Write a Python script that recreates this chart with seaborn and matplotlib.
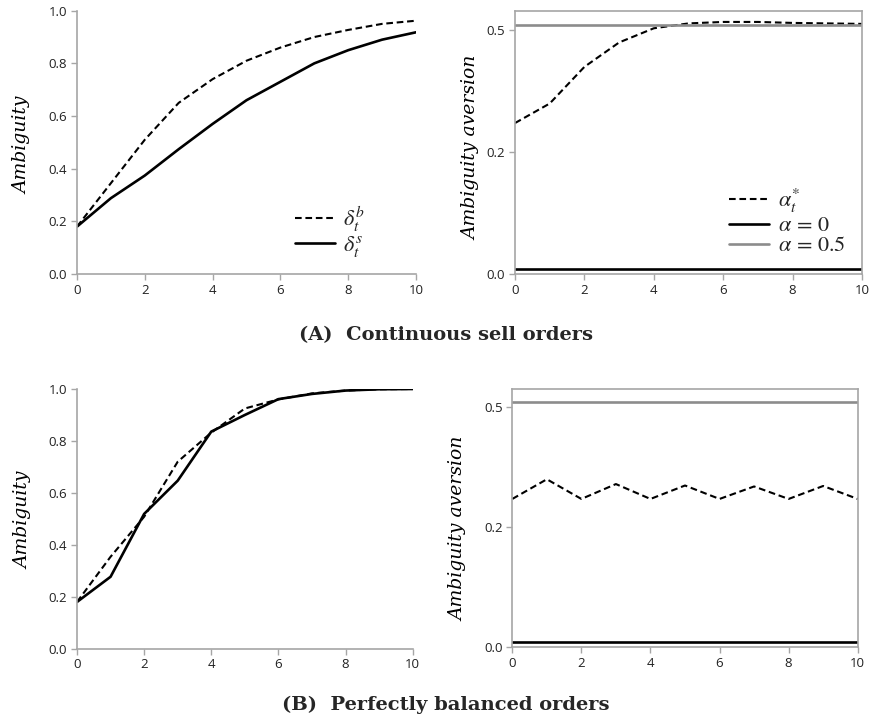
import numpy as np
import pandas as pd
import seaborn as sns
import matplotlib
matplotlib.use("Agg")
import matplotlib.pyplot as plt
from matplotlib.ticker import FormatStrFormatter

# ---- data ----
t = list(range(11))
# Panel A: continuous sell orders
a_delta_b = [0.18, 0.345, 0.51, 0.65, 0.74, 0.81, 0.86, 0.90, 0.927, 0.95, 0.962]
a_delta_s = [0.18, 0.288, 0.374, 0.474, 0.57, 0.66, 0.73, 0.80, 0.85, 0.89, 0.918]
a_alpha_star = [0.309, 0.349, 0.424, 0.474, 0.503, 0.513, 0.516, 0.516, 0.514, 0.513, 0.512]
# Panel B: perfectly balanced orders
b_delta_b = [0.18, 0.354, 0.508, 0.72, 0.832, 0.925, 0.96, 0.983, 0.994, 0.999, 1.0]
b_delta_s = [0.18, 0.277, 0.519, 0.647, 0.836, 0.90, 0.961, 0.981, 0.994, 0.999, 1.0]
b_alpha_star = [0.309, 0.35, 0.309, 0.340, 0.309, 0.337, 0.309, 0.335, 0.309, 0.336, 0.309]
alpha_zero = [0.01] * 11
alpha_half = [0.51] * 11

x_ticks = [0, 2, 4, 6, 8, 10]
amb_ticks = [0.0, 0.2, 0.4, 0.6, 0.8, 1.0]
aver_ticks = [0.0, 0.25, 0.5]

sns.set_style("white")
plt.rcParams["mathtext.fontset"] = "stix"

SPINE = "#a6a6a6"
TICKC = "#222222"
DASH = (3.2, 1.8)

fig = plt.figure(figsize=(8.73, 7.22), dpi=100)

def frac(l, r, top, bot):
    return [l / 873, (722 - bot) / 722, (r - l) / 873, (bot - top) / 722]

ax_tl = fig.add_axes(frac(77, 416, 10.7, 274))
ax_tr = fig.add_axes(frac(515, 862, 10.7, 274))
ax_bl = fig.add_axes(frac(77, 412.7, 389, 648.7))
ax_br = fig.add_axes(frac(512.3, 857.7, 389, 647.3))

def style(ax, box, yt, ylim, fmt):
    ax.set_xlim(0, 10)
    ax.set_ylim(*ylim)
    ax.set_xticks(x_ticks)
    ax.set_yticks(yt)
    ax.yaxis.set_major_formatter(FormatStrFormatter(fmt))
    for s in ["left", "bottom", "top", "right"]:
        ax.spines[s].set_color(SPINE)
        ax.spines[s].set_linewidth(1.2)
        ax.spines[s].set_visible(box or s in ("left", "bottom"))
    ax.tick_params(axis="both", which="major", direction="out", length=4,
                   width=1.0, color=SPINE, labelcolor=TICKC, labelsize=9.5,
                   pad=3, bottom=True, left=True)
    for lab in ax.get_xticklabels() + ax.get_yticklabels():
        lab.set_fontfamily("Open Sans")
    ax.set_facecolor("white")

def ylab(ax, text, x, y):
    ax.set_ylabel(text, fontsize=13.5, fontstyle="italic", family="DejaVu Serif",
                  color="black")
    ax.yaxis.set_label_coords(x, y)

# Top-left
sns.lineplot(x=t, y=a_delta_b, ax=ax_tl, color="black", linewidth=1.5,
             label=r"$\delta_t^b$").lines[-1].set_dashes(DASH)
sns.lineplot(x=t, y=a_delta_s, ax=ax_tl, color="black", linewidth=1.9,
             label=r"$\delta_t^s$")
style(ax_tl, False, amb_ticks, (0, 1.0), "%.1f")
ylab(ax_tl, "Ambiguity", -0.135, 0.49)
ax_tl.legend(loc="lower right", frameon=False, fontsize=16, handlelength=1.8,
             bbox_to_anchor=(0.91, -0.02), labelspacing=0.0, handletextpad=0.4)

# Top-right
sns.lineplot(x=t, y=a_alpha_star, ax=ax_tr, color="black", linewidth=1.5,
             label=r"$\alpha_t^{*}$").lines[-1].set_dashes(DASH)
sns.lineplot(x=t, y=alpha_zero, ax=ax_tr, color="black", linewidth=1.9,
             label=r"$\alpha\,=\,0$")
sns.lineplot(x=t, y=alpha_half, ax=ax_tr, color="#8c8c8c", linewidth=1.9,
             label=r"$\alpha\,=\,0.5$")
style(ax_tr, True, aver_ticks, (0, 0.539), "%.1f")
ylab(ax_tr, "Ambiguity aversion", -0.10, 0.48)
ax_tr.legend(loc="lower right", frameon=False, fontsize=16, handlelength=1.8,
             bbox_to_anchor=(1.01, -0.005), labelspacing=0.0, handletextpad=0.4)

# Bottom-left
sns.lineplot(x=t, y=b_delta_b, ax=ax_bl, color="black", linewidth=1.5,
             legend=False).lines[-1].set_dashes(DASH)
sns.lineplot(x=t, y=b_delta_s, ax=ax_bl, color="black", linewidth=1.9,
             legend=False)
style(ax_bl, False, amb_ticks, (0, 1.0), "%.1f")
ylab(ax_bl, "Ambiguity", -0.132, 0.495)

# Bottom-right
sns.lineplot(x=t, y=b_alpha_star, ax=ax_br, color="black", linewidth=1.5,
             legend=False).lines[-1].set_dashes(DASH)
sns.lineplot(x=t, y=alpha_zero, ax=ax_br, color="black", linewidth=1.9,
             legend=False)
sns.lineplot(x=t, y=alpha_half, ax=ax_br, color="#8c8c8c", linewidth=1.9,
             legend=False)
style(ax_br, True, aver_ticks, (0, 0.538), "%.1f")
ylab(ax_br, "Ambiguity aversion", -0.13, 0.46)

# Captions
fig.text(0.511, 0.536, "(A)  Continuous sell orders", family="DejaVu Serif",
         fontweight="bold", ha="center", va="center", fontsize=14)
fig.text(0.511, 0.024, "(B)  Perfectly balanced orders", family="DejaVu Serif",
         fontweight="bold", ha="center", va="center", fontsize=14)

fig.savefig("out.png", dpi=100)
